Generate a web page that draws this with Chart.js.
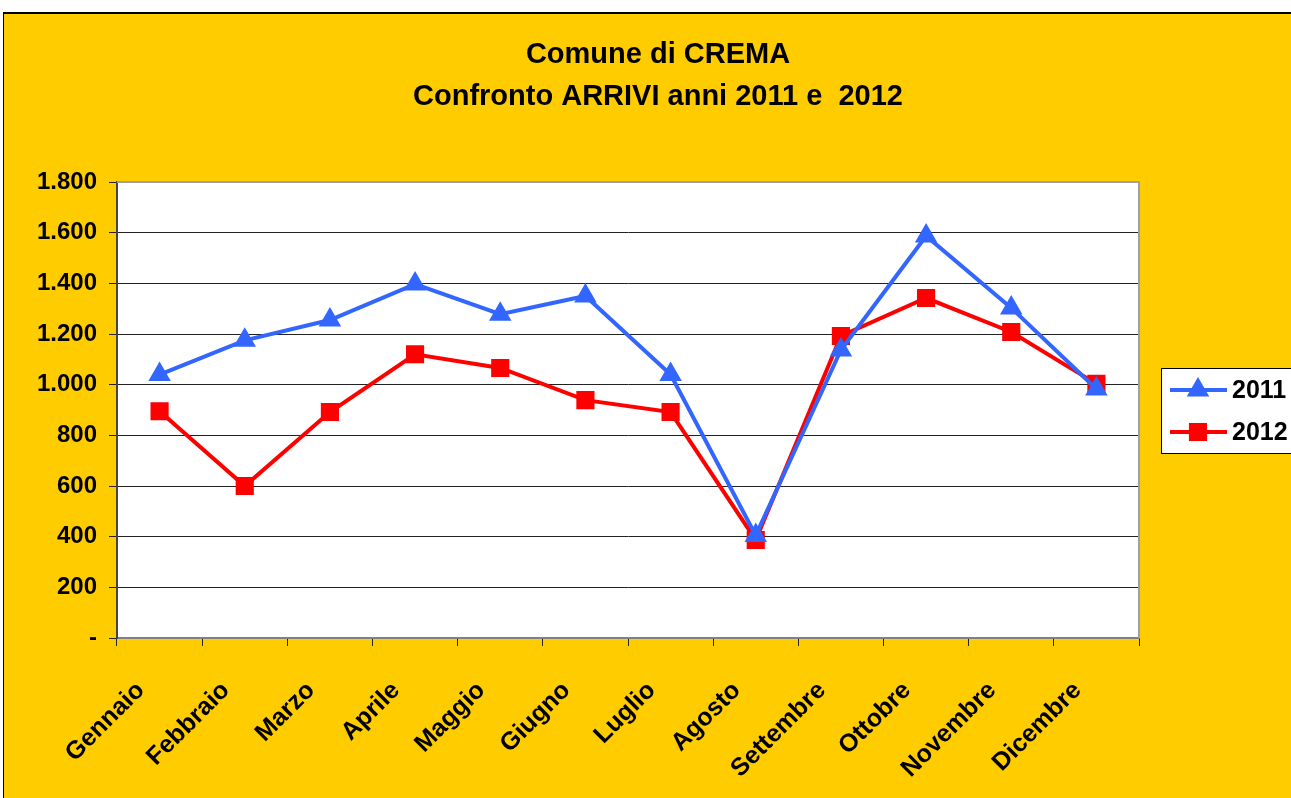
<!DOCTYPE html>
<html>
<head>
<meta charset="utf-8">
<title>Comune di CREMA - Arrivi 2011/2012</title>
<script src="https://cdn.jsdelivr.net/npm/chart.js@4/dist/chart.umd.min.js"></script>
<style>
    html, body { margin: 0; padding: 0; background: #fff; }
    #frame {
        position: absolute; left: 3px; top: 12px;
        width: 1288px; height: 786px;
        background: #FFCC00;
        border-left: 1px solid #000; border-top: 2px solid #000;
        box-sizing: border-box; overflow: hidden;
    }
    #chart { display: block; }
</style>
</head>
<body>
<div id="frame"><canvas id="chart" width="1287" height="784" style="width:1287px;height:784px"></canvas></div>
<script>
// Arrivi mensili - Comune di Crema
const months = ['Gennaio', 'Febbraio', 'Marzo', 'Aprile', 'Maggio', 'Giugno',
                'Luglio', 'Agosto', 'Settembre', 'Ottobre', 'Novembre', 'Dicembre'];
const arrivi2011 = [1040, 1175, 1255, 1397, 1278, 1350, 1040, 405, 1137, 1587, 1303, 983];
const arrivi2012 = [895, 600, 892, 1120, 1066, 939, 892, 387, 1192, 1342, 1208, 1003];
const titleLines = ['Comune di CREMA', 'Confronto ARRIVI anni 2011 e  2012'];

const FONT = '"Liberation Sans", Arial, Helvetica, sans-serif';

function fmt(v) {
    if (v === 0) return '-';
    return String(v).replace(/\B(?=(\d{3})+(?!\d))/g, '.');
}

// white plot area + grey frame, drawn under the datasets
const plotBox = {
    id: 'plotBox',
    beforeDraw(chart) {
        const { ctx, chartArea: a } = chart;
        ctx.save();
        ctx.fillStyle = '#fff';
        ctx.fillRect(a.left, a.top, a.right - a.left, a.bottom - a.top);
        ctx.restore();
    },
    beforeDatasetsDraw(chart) {
        const { ctx, chartArea: a } = chart;
        ctx.save();
        ctx.strokeStyle = '#a0a0a0';
        ctx.lineWidth = 2;
        ctx.beginPath();
        ctx.moveTo(a.left, a.top);
        ctx.lineTo(a.right, a.top);
        ctx.lineTo(a.right, a.bottom);
        ctx.stroke();
        ctx.restore();
    }
};

const titleAndLegend = {
    id: 'titleAndLegend',
    afterDraw(chart) {
        const ctx = chart.ctx;
        ctx.save();
        ctx.fillStyle = '#000';
        ctx.textAlign = 'center';
        ctx.textBaseline = 'middle';
        ctx.font = 'bold 29px ' + FONT;
        ctx.fillText(titleLines[0], 654, 41);
        ctx.fillText(titleLines[1], 654, 83);

        // legend box
        ctx.fillStyle = '#fff';
        ctx.fillRect(1157, 354, 140, 85);
        ctx.strokeStyle = '#000';
        ctx.lineWidth = 1;
        ctx.strokeRect(1157.5, 354.5, 140, 85);

        chart.data.datasets.forEach((ds, i) => {
            const y = 376 + i * 42;
            ctx.strokeStyle = ds.borderColor;
            ctx.lineWidth = 4;
            ctx.beginPath();
            ctx.moveTo(1166, y);
            ctx.lineTo(1223, y);
            ctx.stroke();
            Chart.helpers.drawPoint(ctx, {
                pointStyle: ds.pointStyle,
                radius: ds.pointRadius,
                rotation: 0,
                borderWidth: 1
            }, 1194, y);
            ctx.fillStyle = ds.borderColor;
            ctx.fill();
            ctx.fillStyle = '#000';
            ctx.textAlign = 'left';
            ctx.font = 'bold 25px ' + FONT;
            ctx.fillText(ds.label, 1228, y + 1);
        });
        ctx.restore();
    }
};

new Chart(document.getElementById('chart'), {
    type: 'line',
    data: {
        labels: months,
        datasets: [{
            label: '2011',
            data: arrivi2011,
            borderColor: '#3366FF',
            backgroundColor: '#3366FF',
            pointBackgroundColor: '#3366FF',
            pointBorderColor: '#3366FF',
            borderWidth: 4,
            pointStyle: 'triangle',
            pointRadius: 9,
            tension: 0
        }, {
            label: '2012',
            data: arrivi2012,
            borderColor: '#FF0000',
            backgroundColor: '#FF0000',
            pointBackgroundColor: '#FF0000',
            pointBorderColor: '#FF0000',
            borderWidth: 4,
            pointStyle: 'rect',
            pointRadius: 10,
            tension: 0
        }]
    },
    options: {
        responsive: false,
        animation: false,
        layout: { padding: { top: 168, right: 152, left: 0, bottom: 0 } },
        plugins: {
            legend: { display: false },
            title: { display: false },
            tooltip: { enabled: false }
        },
        scales: {
            x: {
                offset: true,
                afterFit(scale) { scale.height = 160; },
                border: { color: '#808080', width: 2 },
                grid: {
                    offset: true,
                    drawOnChartArea: false,
                    tickLength: 8,
                    tickColor: '#222'
                },
                ticks: {
                    autoSkip: false,
                    minRotation: 45,
                    maxRotation: 45,
                    labelOffset: -19,
                    padding: 30,
                    color: '#000',
                    font: { family: FONT, size: 25, weight: 'bold' }
                }
            },
            y: {
                min: 0,
                max: 1800,
                afterFit(scale) { scale.width = 113; },
                border: { color: '#444', width: 2 },
                grid: {
                    color: ctx => (ctx.tick && (ctx.tick.value === 0 || ctx.tick.value === 1800)) ? 'rgba(0,0,0,0)' : '#222',
                    tickColor: '#222',
                    tickLength: 8,
                    lineWidth: 1
                },
                ticks: {
                    stepSize: 200,
                    padding: 12,
                    color: '#000',
                    font: { family: FONT, size: 24, weight: 'bold' },
                    callback: v => fmt(v)
                }
            }
        }
    },
    plugins: [plotBox, titleAndLegend]
});
</script>
</body>
</html>
